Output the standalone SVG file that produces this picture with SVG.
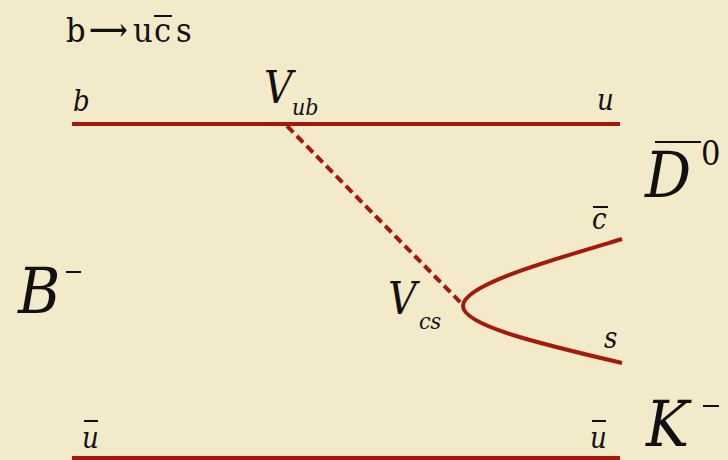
<svg xmlns="http://www.w3.org/2000/svg" width="728" height="460" viewBox="0 0 728 460">
<style>
.ln{stroke:#a3190c;stroke-width:4;fill:none}
text{font-family:"DejaVu Serif","Liberation Serif",serif;font-stretch:condensed;fill:#111}
.i{font-style:italic}
.ov{stroke:#111;stroke-width:2}
</style>
<rect width="728" height="460" fill="#f3eac9"/>
<g id="title"><text x="66" y="42" font-size="34">b</text><text x="89" y="40" font-size="30" font-weight="bold">⟶</text><text x="133" y="42" font-size="34">u</text><text x="154" y="42" font-size="34">c</text><line class="ov" x1="154" y1="16" x2="172" y2="16" stroke-width="3"/><text x="176" y="42" font-size="34">s</text></g>
<g id="connectors">
<line class="ln" x1="72" y1="124" x2="620" y2="124"/>
<line class="ln" x1="287" y1="126" x2="463" y2="305" stroke-dasharray="9,5" stroke-width="3.5"/>
<path class="ln" d="M622,239 C545,262 463,285 463,306 C463,326 545,345 622,363"/>
<line class="ln" x1="72" y1="458" x2="620" y2="458" stroke-width="5"/>
</g>
<g id="b-label"><text class="i" x="73" y="111" font-size="29">b</text></g>
<g id="Vub"><text class="i" x="264" y="103" font-size="44">V</text><text class="i" x="292" y="115" font-size="23">ub</text></g>
<g id="u-top"><text class="i" x="597" y="110" font-size="29">u</text></g>
<g id="D0"><text class="i" x="645" y="197" font-size="64">D</text><line class="ov" x1="655" y1="142" x2="701" y2="142" stroke-width="3"/><text x="701" y="165" font-size="34">0</text></g>
<g id="cbar"><text class="i" x="592" y="229" font-size="29">c</text><line class="ov" x1="593" y1="207" x2="608" y2="207"/></g>
<g id="Vcs"><text class="i" x="388" y="314" font-size="44">V</text><text class="i" x="419" y="329" font-size="23">cs</text></g>
<g id="s-label"><text class="i" x="604" y="348" font-size="29">s</text></g>
<g id="B"><text class="i" x="18" y="313" font-size="64">B</text><line class="ov" x1="66" y1="272" x2="81" y2="272"/></g>
<g id="ubar-left"><text class="i" x="82" y="448" font-size="29">u</text><line class="ov" x1="84" y1="421" x2="98" y2="421"/></g>
<g id="ubar-right"><text class="i" x="590" y="448" font-size="29">u</text><line class="ov" x1="592" y1="421" x2="606" y2="421"/></g>
<g id="K"><text class="i" x="646" y="446" font-size="64">K</text><line class="ov" x1="703" y1="406" x2="719" y2="406"/></g>
</svg>
